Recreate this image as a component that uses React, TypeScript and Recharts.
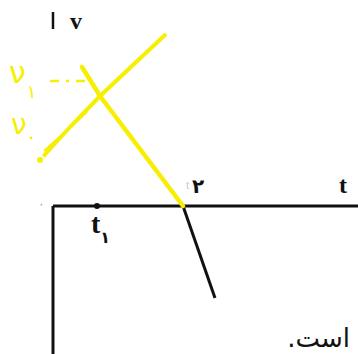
import React from 'react';
import { LineChart, Line, XAxis, YAxis, ReferenceLine, ReferenceDot } from 'recharts';

// t (time) and v (velocity) in drawing units
const T_DOMAIN = [-5.3, 30.5];
const V_DOMAIN = [-14.8, 20.6];

const t1 = 4.4;
const t2 = 13.0;

// yellow (hand‑drawn) falling line
const fallingLine = [
  { t: 2.9, v: 13.9 },
  { t: 4.7, v: 11.0 },
  { t: 13.0, v: 0 },
];
// yellow (hand‑drawn) rising line
const risingLine = [
  { t: -1.3, v: 4.6 },
  { t: 1.7, v: 7.9 },
  { t: 4.7, v: 11.0 },
  { t: 11.2, v: 17.1 },
];
const risingStroke2 = [
  { t: -0.9, v: 5.5 },
  { t: 3.4, v: 9.4 },
];
// printed black line after t2
const printedLine = [
  { t: 13.0, v: 0 },
  { t: 16.2, v: -9.2 },
];
// yellow dashed guide to v1
const dashedGuide = [
  { t: -0.3, v: 12.5 },
  { t: 3.5, v: 12.5 },
];

const YELLOW = '#f7ef00';

type Lbl = { t: number; v: number; render: (x: number, y: number) => React.ReactNode };

const labels: Lbl[] = [
  {
    t: 0, v: 19.4,
    render: (x, y) => (
      <text x={x + 17} y={y + 17} fontFamily="Liberation Serif" fontWeight="bold" fontSize={24} fill="#111">v</text>
    ),
  },
  {
    t: 30.5, v: 0,
    render: (x, y) => (
      <text x={x - 19} y={y - 13} fontFamily="Liberation Serif" fontWeight="bold" fontSize={24} fill="#111">t</text>
    ),
  },
  {
    t: t1, v: 0,
    render: (x, y) => (
      <text x={x - 6} y={y + 27} fontFamily="Liberation Serif" fontWeight="bold" fontSize={28} fill="#111">
        t<tspan fontFamily="DejaVu Sans" fontSize={16} dy={10}>۱</tspan>
      </text>
    ),
  },
  {
    t: t2, v: 0,
    render: (x, y) => (
      <g>
        <text x={x + 3} y={y - 17} fontFamily="Liberation Serif" fontSize={12} fill="#c8c8c8">t</text>
        <text x={x + 9} y={y - 13} fontFamily="DejaVu Sans" fontWeight="bold" fontSize={20} fill="#111">۲</text>
      </g>
    ),
  },
  {
    t: 0, v: 0,
    render: (x, y) => (
      <text x={x - 15} y={y + 2} fontFamily="DejaVu Sans" fontSize={12} fill="#9a9a9a">۰</text>
    ),
  },
  {
    t: 0, v: 12.5,
    render: (x, y) => (
      <text x={x - 44} y={y + 2} fontFamily="DejaVu Sans" fontSize={30} fill={YELLOW}>
        ν<tspan fontSize={18} dy={15} dx={1}>۱</tspan>
      </text>
    ),
  },
  {
    t: 0, v: 7.6,
    render: (x, y) => (
      <text x={x - 42} y={y + 4} fontFamily="DejaVu Sans" fontSize={28} fill={YELLOW}>
        ν<tspan fontSize={20} dy={9} dx={-1}>۰</tspan>
      </text>
    ),
  },
  {
    t: 30.5, v: -14.8,
    render: (x, y) => (
      <text x={x - 8} y={y - 7} fontFamily="DejaVu Sans" fontSize={26} fill="#111" textAnchor="end">{'است.\u200F'}</text>
    ),
  },
];

export default function App() {
  return (
    <div style={{ position: 'absolute', left: 0, top: 0, width: 358, height: 354, background: '#fff' }}>
      <LineChart width={358} height={354} margin={{ top: 0, right: 0, bottom: 0, left: 0 }}>
        <XAxis type="number" dataKey="t" domain={T_DOMAIN} hide allowDataOverflow />
        <YAxis type="number" dataKey="v" domain={V_DOMAIN} hide allowDataOverflow />

        {/* axes drawn as in the printed figure */}
        <ReferenceLine segment={[{ x: 0, y: 0 }, { x: 30.5, y: 0 }]} stroke="#111" strokeWidth={3} ifOverflow="visible" />
        <ReferenceLine segment={[{ x: 0, y: 0 }, { x: 0, y: -14.8 }]} stroke="#111" strokeWidth={3} ifOverflow="visible" />
        <ReferenceLine segment={[{ x: 0, y: 17.7 }, { x: 0, y: 19.4 }]} stroke="#111" strokeWidth={2.5} ifOverflow="visible" />

        <Line data={printedLine} dataKey="v" stroke="#111" strokeWidth={3} dot={false} isAnimationActive={false} />
        <Line data={dashedGuide} dataKey="v" stroke={YELLOW} strokeWidth={2.5} strokeDasharray="9 7 3 7" dot={false} isAnimationActive={false} />
        <Line data={risingStroke2} dataKey="v" stroke={YELLOW} strokeWidth={2} dot={false} isAnimationActive={false} />
        <Line data={risingLine} dataKey="v" stroke={YELLOW} strokeWidth={4} strokeLinecap="round" dot={false} isAnimationActive={false} />
        <Line data={fallingLine} dataKey="v" stroke={YELLOW} strokeWidth={4.5} strokeLinecap="round" dot={false} isAnimationActive={false} />

        <ReferenceDot x={t1} y={0} r={3} fill="#111" stroke="none" ifOverflow="visible" />

        {labels.map((l, i) => (
          <ReferenceDot
            key={i}
            x={l.t}
            y={l.v}
            r={0}
            ifOverflow="visible"
            shape={(p: any) => <g>{l.render(p.cx, p.cy)}</g>}
          />
        ))}
      </LineChart>
    </div>
  );
}
